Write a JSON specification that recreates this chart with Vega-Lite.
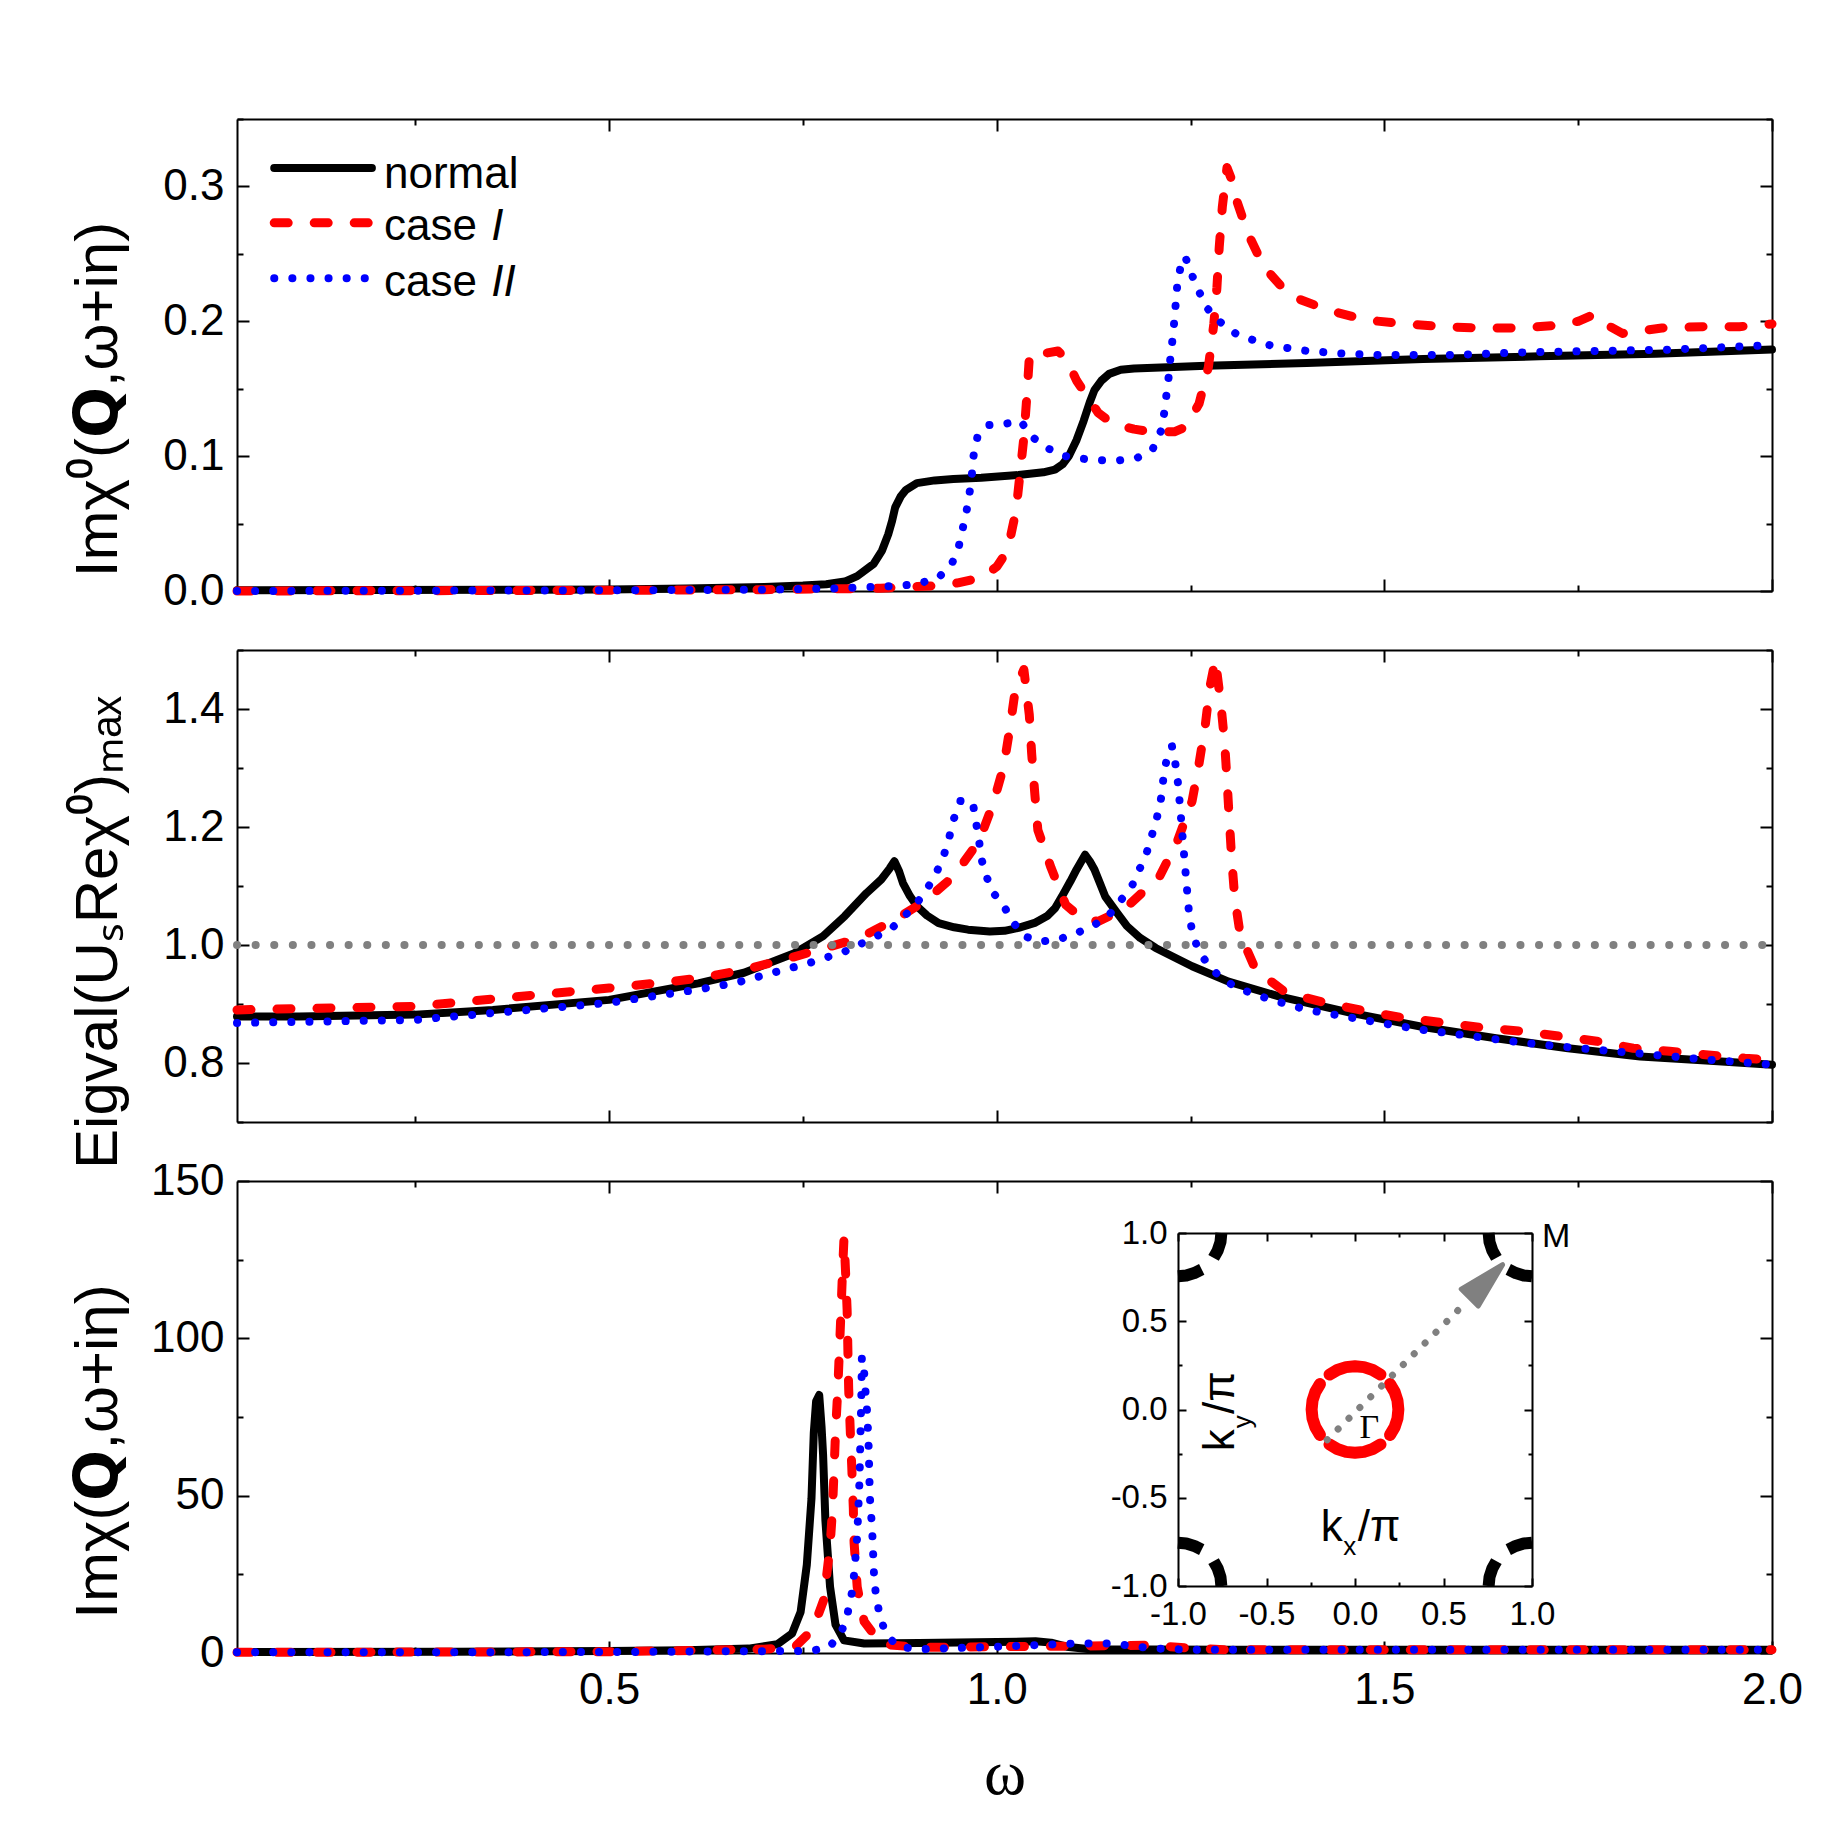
{
"$schema": "https://vega.github.io/schema/vega-lite/v6.json",
"background": "white",
"padding": {"left": 67, "top": 97, "right": 20, "bottom": 20},
"spacing": 59,
"bounds": "flush",
"config": {
  "view": {"stroke": null},
  "font": "Liberation Sans",
  "axis": {"grid": false, "domainColor": "black", "domainWidth": 2, "tickColor": "black", "tickWidth": 2,
    "labelFont": "Liberation Sans", "labelFontSize": 44, "labelColor": "black", "labelFlush": false, "labelOverlap": false, "labelBound": false,
    "titleFont": "Liberation Sans", "titleFontSize": 60, "titleFontWeight": "normal", "titleColor": "black", "zindex": 1},
  "line": {"strokeCap": "round", "strokeJoin": "round"},
  "text": {"font": "Liberation Sans", "color": "black", "align": "left", "baseline": "alphabetic"}
},
"datasets": {
  "t_n": [{"w":0.02,"v":0.0005},{"w":0.2,"v":0.0007},{"w":0.4,"v":0.001},{"w":0.5,"v":0.0012},{"w":0.6,"v":0.0018},{"w":0.7,"v":0.003},{"w":0.75,"v":0.004},{"w":0.78,"v":0.005},{"w":0.804,"v":0.007},{"w":0.82,"v":0.011},{"w":0.841,"v":0.02},{"w":0.852,"v":0.03},{"w":0.86,"v":0.042},{"w":0.865,"v":0.052},{"w":0.869,"v":0.062},{"w":0.876,"v":0.07},{"w":0.883,"v":0.075},{"w":0.897,"v":0.08},{"w":0.92,"v":0.082},{"w":0.944,"v":0.083},{"w":0.98,"v":0.084},{"w":1.028,"v":0.086},{"w":1.06,"v":0.088},{"w":1.075,"v":0.09},{"w":1.085,"v":0.094},{"w":1.093,"v":0.1},{"w":1.103,"v":0.112},{"w":1.112,"v":0.126},{"w":1.12,"v":0.14},{"w":1.126,"v":0.149},{"w":1.135,"v":0.156},{"w":1.145,"v":0.161},{"w":1.16,"v":0.164},{"w":1.177,"v":0.165},{"w":1.22,"v":0.166},{"w":1.27,"v":0.167},{"w":1.4,"v":0.169},{"w":1.55,"v":0.172},{"w":1.7,"v":0.174},{"w":1.85,"v":0.176},{"w":2.0,"v":0.179}],
  "t_1": [{"w":0.02,"v":0.0},{"w":0.5,"v":0.0005},{"w":0.7,"v":0.001},{"w":0.85,"v":0.002},{"w":0.925,"v":0.004},{"w":0.95,"v":0.006},{"w":0.981,"v":0.01},{"w":1.0,"v":0.018},{"w":1.014,"v":0.03},{"w":1.025,"v":0.06},{"w":1.03,"v":0.087},{"w":1.035,"v":0.114},{"w":1.039,"v":0.146},{"w":1.042,"v":0.173},{"w":1.048,"v":0.178},{"w":1.06,"v":0.176},{"w":1.079,"v":0.178},{"w":1.09,"v":0.172},{"w":1.103,"v":0.156},{"w":1.131,"v":0.132},{"w":1.15,"v":0.124},{"w":1.177,"v":0.12},{"w":1.2,"v":0.118},{"w":1.229,"v":0.118},{"w":1.245,"v":0.122},{"w":1.261,"v":0.139},{"w":1.273,"v":0.166},{"w":1.28,"v":0.198},{"w":1.284,"v":0.225},{"w":1.287,"v":0.255},{"w":1.291,"v":0.285},{"w":1.297,"v":0.314},{"w":1.303,"v":0.305},{"w":1.308,"v":0.292},{"w":1.324,"v":0.265},{"w":1.345,"v":0.24},{"w":1.378,"v":0.219},{"w":1.429,"v":0.208},{"w":1.476,"v":0.201},{"w":1.527,"v":0.198},{"w":1.578,"v":0.196},{"w":1.625,"v":0.195},{"w":1.676,"v":0.195},{"w":1.723,"v":0.197},{"w":1.75,"v":0.2},{"w":1.77,"v":0.205},{"w":1.785,"v":0.198},{"w":1.807,"v":0.191},{"w":1.858,"v":0.195},{"w":1.91,"v":0.196},{"w":1.958,"v":0.196},{"w":2.0,"v":0.198}],
  "t_2": [{"w":0.02,"v":0.0},{"w":0.5,"v":0.0005},{"w":0.7,"v":0.001},{"w":0.8,"v":0.002},{"w":0.879,"v":0.004},{"w":0.902,"v":0.006},{"w":0.925,"v":0.01},{"w":0.942,"v":0.02},{"w":0.951,"v":0.033},{"w":0.956,"v":0.046},{"w":0.961,"v":0.059},{"w":0.965,"v":0.073},{"w":0.968,"v":0.087},{"w":0.97,"v":0.1},{"w":0.975,"v":0.114},{"w":0.989,"v":0.123},{"w":1.011,"v":0.124},{"w":1.031,"v":0.126},{"w":1.044,"v":0.115},{"w":1.065,"v":0.106},{"w":1.089,"v":0.1},{"w":1.112,"v":0.098},{"w":1.135,"v":0.097},{"w":1.159,"v":0.097},{"w":1.182,"v":0.099},{"w":1.201,"v":0.105},{"w":1.212,"v":0.119},{"w":1.216,"v":0.132},{"w":1.219,"v":0.146},{"w":1.222,"v":0.16},{"w":1.224,"v":0.173},{"w":1.227,"v":0.188},{"w":1.229,"v":0.2},{"w":1.231,"v":0.214},{"w":1.233,"v":0.228},{"w":1.238,"v":0.243},{"w":1.243,"v":0.248},{"w":1.252,"v":0.234},{"w":1.261,"v":0.222},{"w":1.271,"v":0.21},{"w":1.287,"v":0.2},{"w":1.308,"v":0.191},{"w":1.331,"v":0.186},{"w":1.354,"v":0.182},{"w":1.401,"v":0.178},{"w":1.448,"v":0.176},{"w":1.494,"v":0.175},{"w":1.588,"v":0.175},{"w":1.681,"v":0.177},{"w":1.774,"v":0.178},{"w":1.868,"v":0.179},{"w":1.989,"v":0.182},{"w":2.0,"v":0.182}],
  "leg_n": [{"w":0.068,"v":0.3137},{"w":0.194,"v":0.3137}],
  "leg_1": [{"w":0.068,"v":0.273},{"w":0.194,"v":0.273}],
  "leg_2": [{"w":0.068,"v":0.232},{"w":0.194,"v":0.232}],
  "leg_txt": [{"w":0.2096,"v":0.299,"t":"normal"},{"w":0.2096,"v":0.26,"t":"case"},{"w":0.2096,"v":0.219,"t":"case"}],
  "leg_it": [{"w":0.348,"v":0.26,"t":"I"},{"w":0.348,"v":0.219,"t":"II"}],
  "m_n": [{"w":0.02,"v":0.879},{"w":0.1,"v":0.879},{"w":0.25,"v":0.882},{"w":0.35,"v":0.89},{"w":0.5,"v":0.907},{"w":0.615,"v":0.935},{"w":0.674,"v":0.953},{"w":0.739,"v":0.986},{"w":0.776,"v":1.015},{"w":0.804,"v":1.049},{"w":0.832,"v":1.088},{"w":0.851,"v":1.111},{"w":0.862,"v":1.13},{"w":0.868,"v":1.142},{"w":0.874,"v":1.125},{"w":0.879,"v":1.105},{"w":0.888,"v":1.083},{"w":0.897,"v":1.066},{"w":0.91,"v":1.05},{"w":0.925,"v":1.037},{"w":0.945,"v":1.03},{"w":0.963,"v":1.026},{"w":0.991,"v":1.023},{"w":1.01,"v":1.024},{"w":1.028,"v":1.029},{"w":1.05,"v":1.038},{"w":1.065,"v":1.049},{"w":1.075,"v":1.062},{"w":1.084,"v":1.082},{"w":1.095,"v":1.108},{"w":1.103,"v":1.128},{"w":1.114,"v":1.153},{"w":1.12,"v":1.142},{"w":1.126,"v":1.128},{"w":1.133,"v":1.105},{"w":1.14,"v":1.082},{"w":1.155,"v":1.055},{"w":1.168,"v":1.032},{"w":1.185,"v":1.012},{"w":1.205,"v":0.995},{"w":1.252,"v":0.964},{"w":1.299,"v":0.938},{"w":1.364,"v":0.913},{"w":1.457,"v":0.885},{"w":1.55,"v":0.861},{"w":1.644,"v":0.842},{"w":1.737,"v":0.825},{"w":1.83,"v":0.811},{"w":1.92,"v":0.804},{"w":2.0,"v":0.797}],
  "m_1": [{"w":0.02,"v":0.89},{"w":0.25,"v":0.896},{"w":0.5,"v":0.927},{"w":0.58,"v":0.938},{"w":0.617,"v":0.944},{"w":0.674,"v":0.958},{"w":0.725,"v":0.975},{"w":0.771,"v":0.992},{"w":0.823,"v":1.012},{"w":0.869,"v":1.043},{"w":0.907,"v":1.074},{"w":0.944,"v":1.116},{"w":0.977,"v":1.176},{"w":0.995,"v":1.238},{"w":1.009,"v":1.303},{"w":1.017,"v":1.368},{"w":1.024,"v":1.433},{"w":1.035,"v":1.467},{"w":1.042,"v":1.39},{"w":1.045,"v":1.325},{"w":1.049,"v":1.258},{"w":1.053,"v":1.195},{"w":1.07,"v":1.131},{"w":1.089,"v":1.068},{"w":1.11,"v":1.045},{"w":1.131,"v":1.04},{"w":1.15,"v":1.052},{"w":1.173,"v":1.071},{"w":1.21,"v":1.116},{"w":1.233,"v":1.176},{"w":1.252,"v":1.244},{"w":1.261,"v":1.308},{"w":1.269,"v":1.373},{"w":1.275,"v":1.438},{"w":1.282,"v":1.484},{"w":1.289,"v":1.41},{"w":1.294,"v":1.342},{"w":1.297,"v":1.28},{"w":1.3,"v":1.212},{"w":1.303,"v":1.147},{"w":1.307,"v":1.08},{"w":1.314,"v":1.018},{"w":1.334,"v":0.958},{"w":1.373,"v":0.919},{"w":1.424,"v":0.902},{"w":1.476,"v":0.888},{"w":1.527,"v":0.876},{"w":1.578,"v":0.868},{"w":1.625,"v":0.86},{"w":1.676,"v":0.854},{"w":1.728,"v":0.845},{"w":1.774,"v":0.837},{"w":1.821,"v":0.825},{"w":1.868,"v":0.82},{"w":1.914,"v":0.814},{"w":1.965,"v":0.808},{"w":2.0,"v":0.805}],
  "m_2": [{"w":0.02,"v":0.868},{"w":0.25,"v":0.873},{"w":0.5,"v":0.902},{"w":0.617,"v":0.925},{"w":0.664,"v":0.936},{"w":0.711,"v":0.953},{"w":0.757,"v":0.969},{"w":0.804,"v":0.989},{"w":0.841,"v":1.012},{"w":0.865,"v":1.029},{"w":0.881,"v":1.049},{"w":0.897,"v":1.071},{"w":0.911,"v":1.097},{"w":0.923,"v":1.125},{"w":0.932,"v":1.153},{"w":0.939,"v":1.184},{"w":0.945,"v":1.215},{"w":0.953,"v":1.244},{"w":0.969,"v":1.242},{"w":0.973,"v":1.21},{"w":0.977,"v":1.179},{"w":0.98,"v":1.147},{"w":0.986,"v":1.119},{"w":0.994,"v":1.091},{"w":1.009,"v":1.066},{"w":1.022,"v":1.037},{"w":1.035,"v":1.015},{"w":1.058,"v":1.006},{"w":1.081,"v":1.01},{"w":1.103,"v":1.02},{"w":1.126,"v":1.034},{"w":1.145,"v":1.051},{"w":1.159,"v":1.074},{"w":1.174,"v":1.099},{"w":1.185,"v":1.131},{"w":1.194,"v":1.159},{"w":1.201,"v":1.19},{"w":1.207,"v":1.218},{"w":1.212,"v":1.249},{"w":1.215,"v":1.283},{"w":1.219,"v":1.314},{"w":1.226,"v":1.337},{"w":1.231,"v":1.303},{"w":1.234,"v":1.272},{"w":1.236,"v":1.241},{"w":1.238,"v":1.21},{"w":1.24,"v":1.179},{"w":1.242,"v":1.147},{"w":1.244,"v":1.116},{"w":1.246,"v":1.085},{"w":1.248,"v":1.054},{"w":1.252,"v":1.023},{"w":1.259,"v":0.995},{"w":1.271,"v":0.969},{"w":1.287,"v":0.947},{"w":1.31,"v":0.927},{"w":1.354,"v":0.907},{"w":1.401,"v":0.89},{"w":1.448,"v":0.879},{"w":1.494,"v":0.868},{"w":1.55,"v":0.856},{"w":1.616,"v":0.845},{"w":1.681,"v":0.834},{"w":1.751,"v":0.825},{"w":1.821,"v":0.817},{"w":1.896,"v":0.808},{"w":2.0,"v":0.797}],
  "unity": [{"w":0.02,"v":1.0},{"w":2.0,"v":1.0}],
  "b_n": [{"w":0.02,"v":0.3},{"w":0.3,"v":0.4},{"w":0.5,"v":0.6},{"w":0.6,"v":0.9},{"w":0.68,"v":1.4},{"w":0.717,"v":2.8},{"w":0.736,"v":6.2},{"w":0.747,"v":13},{"w":0.755,"v":28},{"w":0.761,"v":49},{"w":0.764,"v":70},{"w":0.767,"v":80},{"w":0.771,"v":82},{"w":0.774,"v":72},{"w":0.776,"v":63},{"w":0.779,"v":42},{"w":0.785,"v":21},{"w":0.792,"v":9},{"w":0.803,"v":4},{"w":0.829,"v":3},{"w":0.9,"v":3.2},{"w":1.0,"v":3.5},{"w":1.05,"v":3.7},{"w":1.07,"v":3.3},{"w":1.09,"v":2},{"w":1.12,"v":1.2},{"w":1.3,"v":1},{"w":1.6,"v":1},{"w":2.0,"v":1}],
  "b_1": [{"w":0.02,"v":0.2},{"w":0.5,"v":0.4},{"w":0.7,"v":1.2},{"w":0.74,"v":2},{"w":0.763,"v":7.6},{"w":0.777,"v":17},{"w":0.785,"v":34},{"w":0.788,"v":45},{"w":0.79,"v":57},{"w":0.792,"v":70},{"w":0.795,"v":84},{"w":0.797,"v":96},{"w":0.799,"v":108},{"w":0.801,"v":121},{"w":0.803,"v":132},{"w":0.805,"v":121},{"w":0.807,"v":109},{"w":0.808,"v":96},{"w":0.809,"v":84},{"w":0.811,"v":71},{"w":0.813,"v":59},{"w":0.815,"v":46},{"w":0.816,"v":35},{"w":0.82,"v":21},{"w":0.829,"v":10},{"w":0.851,"v":2.8},{"w":0.9,"v":1.8},{"w":1.0,"v":2},{"w":1.1,"v":2.2},{"w":1.2,"v":2.5},{"w":1.25,"v":1.5},{"w":1.3,"v":1},{"w":1.6,"v":1},{"w":2.0,"v":1}],
  "b_2": [{"w":0.02,"v":0.2},{"w":0.5,"v":0.3},{"w":0.7,"v":0.6},{"w":0.762,"v":0.7},{"w":0.785,"v":2},{"w":0.801,"v":7.6},{"w":0.808,"v":13},{"w":0.813,"v":19},{"w":0.816,"v":25},{"w":0.818,"v":31},{"w":0.82,"v":37},{"w":0.821,"v":43},{"w":0.822,"v":49},{"w":0.823,"v":55},{"w":0.8235,"v":61},{"w":0.824,"v":67},{"w":0.8245,"v":72},{"w":0.825,"v":78},{"w":0.8255,"v":84},{"w":0.826,"v":94},{"w":0.829,"v":89},{"w":0.831,"v":82},{"w":0.833,"v":76},{"w":0.834,"v":70},{"w":0.835,"v":64},{"w":0.8355,"v":58},{"w":0.836,"v":53},{"w":0.837,"v":46},{"w":0.839,"v":41},{"w":0.84,"v":35},{"w":0.841,"v":29},{"w":0.842,"v":23},{"w":0.845,"v":17},{"w":0.85,"v":11},{"w":0.857,"v":6.2},{"w":0.872,"v":2},{"w":0.9,"v":1.2},{"w":1.0,"v":2},{"w":1.1,"v":3},{"w":1.15,"v":3},{"w":1.2,"v":1.5},{"w":1.25,"v":1},{"w":2.0,"v":1}],
  "ring": [
    {"a":"E","kx":0.198,"ky":-0.144},{"a":"E","kx":0.224,"ky":-0.1},{"a":"E","kx":0.24,"ky":-0.051},{"a":"E","kx":0.245,"ky":0},{"a":"E","kx":0.24,"ky":0.051},{"a":"E","kx":0.224,"ky":0.1},{"a":"E","kx":0.198,"ky":0.144},
    {"a":"W","kx":-0.198,"ky":-0.144},{"a":"W","kx":-0.224,"ky":-0.1},{"a":"W","kx":-0.24,"ky":-0.051},{"a":"W","kx":-0.245,"ky":0},{"a":"W","kx":-0.24,"ky":0.051},{"a":"W","kx":-0.224,"ky":0.1},{"a":"W","kx":-0.198,"ky":0.144},
    {"a":"N","kx":-0.144,"ky":0.198},{"a":"N","kx":-0.1,"ky":0.224},{"a":"N","kx":-0.051,"ky":0.24},{"a":"N","kx":0,"ky":0.245},{"a":"N","kx":0.051,"ky":0.24},{"a":"N","kx":0.1,"ky":0.224},{"a":"N","kx":0.144,"ky":0.198},
    {"a":"S","kx":-0.144,"ky":-0.198},{"a":"S","kx":-0.1,"ky":-0.224},{"a":"S","kx":-0.051,"ky":-0.24},{"a":"S","kx":0,"ky":-0.245},{"a":"S","kx":0.051,"ky":-0.24},{"a":"S","kx":0.1,"ky":-0.224},{"a":"S","kx":0.144,"ky":-0.198}],
  "corner": [
    {"a":"TLa","kx":-0.755,"ky":1.0},{"a":"TLa","kx":-0.76,"ky":0.949},{"a":"TLa","kx":-0.776,"ky":0.9},{"a":"TLa","kx":-0.799,"ky":0.859},
    {"a":"TLb","kx":-0.866,"ky":0.794},{"a":"TLb","kx":-0.908,"ky":0.773},{"a":"TLb","kx":-0.953,"ky":0.759},{"a":"TLb","kx":-1.0,"ky":0.755},
    {"a":"TRa","kx":0.755,"ky":1.0},{"a":"TRa","kx":0.76,"ky":0.949},{"a":"TRa","kx":0.776,"ky":0.9},{"a":"TRa","kx":0.799,"ky":0.859},
    {"a":"TRb","kx":0.866,"ky":0.794},{"a":"TRb","kx":0.908,"ky":0.773},{"a":"TRb","kx":0.953,"ky":0.759},{"a":"TRb","kx":1.0,"ky":0.755},
    {"a":"BLa","kx":-0.755,"ky":-1.0},{"a":"BLa","kx":-0.76,"ky":-0.949},{"a":"BLa","kx":-0.776,"ky":-0.9},{"a":"BLa","kx":-0.799,"ky":-0.859},
    {"a":"BLb","kx":-0.866,"ky":-0.794},{"a":"BLb","kx":-0.908,"ky":-0.773},{"a":"BLb","kx":-0.953,"ky":-0.759},{"a":"BLb","kx":-1.0,"ky":-0.755},
    {"a":"BRa","kx":0.755,"ky":-1.0},{"a":"BRa","kx":0.76,"ky":-0.949},{"a":"BRa","kx":0.776,"ky":-0.9},{"a":"BRa","kx":0.799,"ky":-0.859},
    {"a":"BRb","kx":0.866,"ky":-0.794},{"a":"BRb","kx":0.908,"ky":-0.773},{"a":"BRb","kx":0.953,"ky":-0.759},{"a":"BRb","kx":1.0,"ky":-0.755}],
  "arrow": [{"kx":-0.157,"ky":-0.172},{"kx":0.6,"ky":0.58}],
  "head": [{"kx":0.662,"ky":0.648}],
  "lab_h": [{"kx":-0.194,"ky":-0.745,"t":"k"},{"kx":0.015,"ky":-0.745,"t":"/π"}],
  "sub_h": [{"kx":-0.066,"ky":-0.826,"t":"x"}],
  "lab_v": [{"kx":-0.685,"ky":-0.236,"t":"k"},{"kx":-0.685,"ky":-0.025,"t":"/π"}],
  "sub_v": [{"kx":-0.59,"ky":-0.106,"t":"y"}],
  "gamma": [{"kx":0.025,"ky":-0.163,"t":"Γ"}],
  "mpt": [{"kx":1.056,"ky":0.92,"t":"M"}]
},
"vconcat": [
  {
    "width": 1535, "height": 472,
    "resolve": {"axis": {"x": "independent", "y": "independent"}},
    "layer": [
      {"data": {"name": "t_n"}, "mark": {"type": "line", "color": "black", "strokeWidth": 8},
       "encoding": {
         "x": {"field": "w", "type": "quantitative", "scale": {"domain": [0.02, 2], "nice": false, "zero": false},
               "axis": {"orient": "bottom", "values": [0.25,0.5,0.75,1,1.25,1.5,1.75,2], "tickSize": {"condition": {"test": "abs(datum.value*2-round(datum.value*2))<0.001", "value": -12}, "value": -6}, "labels": false, "title": null}},
         "y": {"field": "v", "type": "quantitative", "scale": {"domain": [0, 0.35], "nice": false, "zero": false},
               "axis": {"orient": "left", "values": [0,0.05,0.1,0.15,0.2,0.25,0.3,0.35], "tickSize": {"condition": {"test": "abs(datum.value*10-round(datum.value*10))<0.001", "value": -12}, "value": -6}, "labelPadding": 25,
                        "labelExpr": "abs(datum.value*10-round(datum.value*10))<0.001 ? format(datum.value,'.1f') : ''",
                        "title": "Imχ⁰(𝗤,ω+iη)", "titleAngle": 270, "titleAlign": "center", "titleBaseline": "alphabetic", "titleX": -121, "titleY": 280}},
         "order": {"value": null}}},
      {"data": {"name": "t_1"}, "mark": {"type": "line", "color": "#ff0000", "strokeWidth": 9, "strokeDash": [14, 26]},
       "encoding": {"x": {"field": "w", "type": "quantitative", "scale": {"domain": [0.02, 2], "nice": false, "zero": false}, "axis": null},
                    "y": {"field": "v", "type": "quantitative", "scale": {"domain": [0, 0.35], "nice": false, "zero": false}, "axis": null},
                    "order": {"value": null}}},
      {"data": {"name": "t_2"}, "mark": {"type": "line", "color": "#0000ff", "strokeWidth": 8, "strokeDash": [0.1, 18]},
       "encoding": {"x": {"field": "w", "type": "quantitative", "scale": {"domain": [0.02, 2], "nice": false, "zero": false}, "axis": null},
                    "y": {"field": "v", "type": "quantitative", "scale": {"domain": [0, 0.35], "nice": false, "zero": false}, "axis": null},
                    "order": {"value": null}}},
      {"data": {"name": "t_n"}, "mark": {"type": "line", "opacity": 0},
       "encoding": {
         "x": {"field": "w", "type": "quantitative", "scale": {"domain": [0.02, 2], "nice": false, "zero": false},
               "axis": {"orient": "top", "values": [0.25,0.5,0.75,1,1.25,1.5,1.75,2], "tickSize": {"condition": {"test": "abs(datum.value*2-round(datum.value*2))<0.001", "value": -12}, "value": -6}, "labels": false, "title": null}},
         "y": {"field": "v", "type": "quantitative", "scale": {"domain": [0, 0.35], "nice": false, "zero": false},
               "axis": {"orient": "right", "values": [0,0.05,0.1,0.15,0.2,0.25,0.3,0.35], "tickSize": {"condition": {"test": "abs(datum.value*10-round(datum.value*10))<0.001", "value": -12}, "value": -6}, "labels": false, "title": null}},
         "order": {"value": null}}},
      {"data": {"name": "leg_n"}, "mark": {"type": "line", "color": "black", "strokeWidth": 8},
       "encoding": {"x": {"field": "w", "type": "quantitative", "scale": {"domain": [0.02, 2], "nice": false, "zero": false}, "axis": null},
                    "y": {"field": "v", "type": "quantitative", "scale": {"domain": [0, 0.35], "nice": false, "zero": false}, "axis": null}}},
      {"data": {"name": "leg_1"}, "mark": {"type": "line", "color": "#ff0000", "strokeWidth": 9, "strokeDash": [14, 26]},
       "encoding": {"x": {"field": "w", "type": "quantitative", "scale": {"domain": [0.02, 2], "nice": false, "zero": false}, "axis": null},
                    "y": {"field": "v", "type": "quantitative", "scale": {"domain": [0, 0.35], "nice": false, "zero": false}, "axis": null}}},
      {"data": {"name": "leg_2"}, "mark": {"type": "line", "color": "#0000ff", "strokeWidth": 8, "strokeDash": [0.1, 18]},
       "encoding": {"x": {"field": "w", "type": "quantitative", "scale": {"domain": [0.02, 2], "nice": false, "zero": false}, "axis": null},
                    "y": {"field": "v", "type": "quantitative", "scale": {"domain": [0, 0.35], "nice": false, "zero": false}, "axis": null}}},
      {"data": {"name": "leg_txt"}, "mark": {"type": "text", "fontSize": 44},
       "encoding": {"x": {"field": "w", "type": "quantitative", "scale": {"domain": [0.02, 2], "nice": false, "zero": false}, "axis": null},
                    "y": {"field": "v", "type": "quantitative", "scale": {"domain": [0, 0.35], "nice": false, "zero": false}, "axis": null},
                    "text": {"field": "t"}}},
      {"data": {"name": "leg_it"}, "mark": {"type": "text", "fontSize": 44, "fontStyle": "italic"},
       "encoding": {"x": {"field": "w", "type": "quantitative", "scale": {"domain": [0.02, 2], "nice": false, "zero": false}, "axis": null},
                    "y": {"field": "v", "type": "quantitative", "scale": {"domain": [0, 0.35], "nice": false, "zero": false}, "axis": null},
                    "text": {"field": "t"}}}
    ]
  },
  {
    "width": 1535, "height": 472,
    "resolve": {"axis": {"x": "independent", "y": "independent"}},
    "layer": [
      {"data": {"name": "m_n"}, "mark": {"type": "line", "color": "black", "strokeWidth": 8},
       "encoding": {
         "x": {"field": "w", "type": "quantitative", "scale": {"domain": [0.02, 2], "nice": false, "zero": false},
               "axis": {"orient": "bottom", "values": [0.25,0.5,0.75,1,1.25,1.5,1.75,2], "tickSize": {"condition": {"test": "abs(datum.value*2-round(datum.value*2))<0.001", "value": -12}, "value": -6}, "labels": false, "title": null}},
         "y": {"field": "v", "type": "quantitative", "scale": {"domain": [0.7, 1.5], "nice": false, "zero": false},
               "axis": {"orient": "left", "values": [0.7,0.8,0.9,1.0,1.1,1.2,1.3,1.4,1.5], "tickSize": {"condition": {"test": "abs(datum.value*5-round(datum.value*5))<0.001", "value": -12}, "value": -6}, "labelPadding": 25,
                        "labelExpr": "abs(datum.value*5-round(datum.value*5))<0.001 ? format(datum.value,'.1f') : ''",
                        "title": "Eigval(UₛReχ⁰)ₘₐₓ", "titleAngle": 270, "titleAlign": "center", "titleBaseline": "alphabetic", "titleX": -121, "titleY": 282}},
         "order": {"value": null}}},
      {"data": {"name": "m_1"}, "mark": {"type": "line", "color": "#ff0000", "strokeWidth": 9, "strokeDash": [14, 26]},
       "encoding": {"x": {"field": "w", "type": "quantitative", "scale": {"domain": [0.02, 2], "nice": false, "zero": false}, "axis": null},
                    "y": {"field": "v", "type": "quantitative", "scale": {"domain": [0.7, 1.5], "nice": false, "zero": false}, "axis": null},
                    "order": {"value": null}}},
      {"data": {"name": "m_2"}, "mark": {"type": "line", "color": "#0000ff", "strokeWidth": 8, "strokeDash": [0.1, 18]},
       "encoding": {"x": {"field": "w", "type": "quantitative", "scale": {"domain": [0.02, 2], "nice": false, "zero": false}, "axis": null},
                    "y": {"field": "v", "type": "quantitative", "scale": {"domain": [0.7, 1.5], "nice": false, "zero": false}, "axis": null},
                    "order": {"value": null}}},
      {"data": {"name": "unity"}, "mark": {"type": "line", "color": "#808080", "strokeWidth": 8, "strokeDash": [0.1, 18.5]},
       "encoding": {"x": {"field": "w", "type": "quantitative", "scale": {"domain": [0.02, 2], "nice": false, "zero": false}, "axis": null},
                    "y": {"field": "v", "type": "quantitative", "scale": {"domain": [0.7, 1.5], "nice": false, "zero": false}, "axis": null}}},
      {"data": {"name": "m_n"}, "mark": {"type": "line", "opacity": 0},
       "encoding": {
         "x": {"field": "w", "type": "quantitative", "scale": {"domain": [0.02, 2], "nice": false, "zero": false},
               "axis": {"orient": "top", "values": [0.25,0.5,0.75,1,1.25,1.5,1.75,2], "tickSize": {"condition": {"test": "abs(datum.value*2-round(datum.value*2))<0.001", "value": -12}, "value": -6}, "labels": false, "title": null}},
         "y": {"field": "v", "type": "quantitative", "scale": {"domain": [0.7, 1.5], "nice": false, "zero": false},
               "axis": {"orient": "right", "values": [0.7,0.8,0.9,1.0,1.1,1.2,1.3,1.4,1.5], "tickSize": {"condition": {"test": "abs(datum.value*5-round(datum.value*5))<0.001", "value": -12}, "value": -6}, "labels": false, "title": null}},
         "order": {"value": null}}}
    ]
  },
  {
    "width": 1535, "height": 472,
    "resolve": {"scale": {"x": "independent", "y": "independent"}, "axis": {"x": "independent", "y": "independent"}},
    "layer": [
      {"data": {"name": "b_n"}, "mark": {"type": "line", "color": "black", "strokeWidth": 8},
       "encoding": {
         "x": {"field": "w", "type": "quantitative", "scale": {"domain": [0.02, 2], "nice": false, "zero": false},
               "axis": {"orient": "bottom", "values": [0.25,0.5,0.75,1,1.25,1.5,1.75,2], "tickSize": {"condition": {"test": "abs(datum.value*2-round(datum.value*2))<0.001", "value": -12}, "value": -6}, "labelPadding": 27,
                        "labelExpr": "abs(datum.value*2-round(datum.value*2))<0.001 ? format(datum.value,'.1f') : ''",
                        "title": "ω", "titleFont": "Liberation Serif", "titleFontSize": 64, "titleBaseline": "alphabetic", "titleAlign": "center", "titleX": 767.5, "titleY": 140}},
         "y": {"field": "v", "type": "quantitative", "scale": {"domain": [0, 150], "nice": false, "zero": false},
               "axis": {"orient": "left", "values": [0,25,50,75,100,125,150], "tickSize": {"condition": {"test": "datum.value % 50 === 0", "value": -12}, "value": -6}, "labelPadding": 25,
                        "labelExpr": "datum.value % 50 === 0 ? format(datum.value,'d') : ''",
                        "title": "Imχ(𝗤,ω+iη)", "titleAngle": 270, "titleAlign": "center", "titleBaseline": "alphabetic", "titleX": -121, "titleY": 270}},
         "order": {"value": null}}},
      {"data": {"name": "b_1"}, "mark": {"type": "line", "color": "#ff0000", "strokeWidth": 9, "strokeDash": [14, 26]},
       "encoding": {"x": {"field": "w", "type": "quantitative", "scale": {"domain": [0.02, 2], "nice": false, "zero": false}, "axis": null},
                    "y": {"field": "v", "type": "quantitative", "scale": {"domain": [0, 150], "nice": false, "zero": false}, "axis": null},
                    "order": {"value": null}}},
      {"data": {"name": "b_2"}, "mark": {"type": "line", "color": "#0000ff", "strokeWidth": 8, "strokeDash": [0.1, 18]},
       "encoding": {"x": {"field": "w", "type": "quantitative", "scale": {"domain": [0.02, 2], "nice": false, "zero": false}, "axis": null},
                    "y": {"field": "v", "type": "quantitative", "scale": {"domain": [0, 150], "nice": false, "zero": false}, "axis": null},
                    "order": {"value": null}}},
      {"data": {"name": "b_n"}, "mark": {"type": "line", "opacity": 0},
       "encoding": {
         "x": {"field": "w", "type": "quantitative", "scale": {"domain": [0.02, 2], "nice": false, "zero": false},
               "axis": {"orient": "top", "values": [0.25,0.5,0.75,1,1.25,1.5,1.75,2], "tickSize": {"condition": {"test": "abs(datum.value*2-round(datum.value*2))<0.001", "value": -12}, "value": -6}, "labels": false, "title": null}},
         "y": {"field": "v", "type": "quantitative", "scale": {"domain": [0, 150], "nice": false, "zero": false},
               "axis": {"orient": "right", "values": [0,25,50,75,100,125,150], "tickSize": {"condition": {"test": "datum.value % 50 === 0", "value": -12}, "value": -6}, "labels": false, "title": null}},
         "order": {"value": null}}},
      {"data": {"name": "corner"}, "mark": {"type": "line", "color": "black", "strokeWidth": 12, "strokeCap": "butt"},
       "encoding": {
         "x": {"field": "kx", "type": "quantitative", "scale": {"domain": [-1, 1], "range": [941, 1295], "nice": false, "zero": false},
               "axis": {"orient": "bottom", "offset": -67, "values": [-1,-0.75,-0.5,-0.25,0,0.25,0.5,0.75,1], "tickSize": {"condition": {"test": "abs(datum.value*2-round(datum.value*2))<0.001", "value": -8}, "value": -4}, "labelFontSize": 33, "labelPadding": 20,
                        "labelExpr": "abs(datum.value*2-round(datum.value*2))<0.001 ? ((datum.value<0 ? '-' : '') + format(abs(datum.value),'.1f')) : ''", "title": null}},
         "y": {"field": "ky", "type": "quantitative", "scale": {"domain": [-1, 1], "range": [405, 52], "nice": false, "zero": false},
               "axis": {"orient": "left", "offset": -941, "values": [-1,-0.75,-0.5,-0.25,0,0.25,0.5,0.75,1], "tickSize": {"condition": {"test": "abs(datum.value*2-round(datum.value*2))<0.001", "value": -8}, "value": -4}, "labelFontSize": 33, "labelPadding": 19,
                        "labelExpr": "abs(datum.value*2-round(datum.value*2))<0.001 ? ((datum.value<0 ? '-' : '') + format(abs(datum.value),'.1f')) : ''", "title": null}},
         "detail": {"field": "a"},
         "order": {"value": null}}},
      {"data": {"name": "ring"}, "mark": {"type": "line", "color": "#ff0000", "strokeWidth": 12},
       "encoding": {
         "x": {"field": "kx", "type": "quantitative", "scale": {"domain": [-1, 1], "range": [941, 1295], "nice": false, "zero": false},
               "axis": {"orient": "top", "offset": -52, "values": [-1,-0.75,-0.5,-0.25,0,0.25,0.5,0.75,1], "tickSize": {"condition": {"test": "abs(datum.value*2-round(datum.value*2))<0.001", "value": -8}, "value": -4}, "labels": false, "title": null}},
         "y": {"field": "ky", "type": "quantitative", "scale": {"domain": [-1, 1], "range": [405, 52], "nice": false, "zero": false},
               "axis": {"orient": "right", "offset": -240, "values": [-1,-0.75,-0.5,-0.25,0,0.25,0.5,0.75,1], "tickSize": {"condition": {"test": "abs(datum.value*2-round(datum.value*2))<0.001", "value": -8}, "value": -4}, "labels": false, "title": null}},
         "detail": {"field": "a"},
         "order": {"value": null}}},
      {"data": {"name": "arrow"}, "mark": {"type": "line", "color": "#808080", "strokeWidth": 7, "strokeDash": [0.1, 15.2]},
       "encoding": {
         "x": {"field": "kx", "type": "quantitative", "scale": {"domain": [-1, 1], "range": [941, 1295], "nice": false, "zero": false}, "axis": null},
         "y": {"field": "ky", "type": "quantitative", "scale": {"domain": [-1, 1], "range": [405, 52], "nice": false, "zero": false}, "axis": null},
         "order": {"value": null}}},
      {"data": {"name": "head"}, "mark": {"type": "point", "shape": "M0,-1L0.28,0.08L-0.28,0.08Z", "filled": true, "fill": "#808080", "stroke": "#808080", "strokeWidth": 5, "strokeJoin": "round", "opacity": 1, "size": 7400, "angle": 45},
       "encoding": {
         "x": {"field": "kx", "type": "quantitative", "scale": {"domain": [-1, 1], "range": [941, 1295], "nice": false, "zero": false}, "axis": null},
         "y": {"field": "ky", "type": "quantitative", "scale": {"domain": [-1, 1], "range": [405, 52], "nice": false, "zero": false}, "axis": null}}},
      {"data": {"name": "lab_h"}, "mark": {"type": "text", "fontSize": 44},
       "encoding": {
         "x": {"field": "kx", "type": "quantitative", "scale": {"domain": [-1, 1], "range": [941, 1295], "nice": false, "zero": false}, "axis": null},
         "y": {"field": "ky", "type": "quantitative", "scale": {"domain": [-1, 1], "range": [405, 52], "nice": false, "zero": false}, "axis": null},
         "text": {"field": "t"}}},
      {"data": {"name": "sub_h"}, "mark": {"type": "text", "fontSize": 26},
       "encoding": {
         "x": {"field": "kx", "type": "quantitative", "scale": {"domain": [-1, 1], "range": [941, 1295], "nice": false, "zero": false}, "axis": null},
         "y": {"field": "ky", "type": "quantitative", "scale": {"domain": [-1, 1], "range": [405, 52], "nice": false, "zero": false}, "axis": null},
         "text": {"field": "t"}}},
      {"data": {"name": "lab_v"}, "mark": {"type": "text", "fontSize": 44, "angle": 270},
       "encoding": {
         "x": {"field": "kx", "type": "quantitative", "scale": {"domain": [-1, 1], "range": [941, 1295], "nice": false, "zero": false}, "axis": null},
         "y": {"field": "ky", "type": "quantitative", "scale": {"domain": [-1, 1], "range": [405, 52], "nice": false, "zero": false}, "axis": null},
         "text": {"field": "t"}}},
      {"data": {"name": "sub_v"}, "mark": {"type": "text", "fontSize": 26, "angle": 270},
       "encoding": {
         "x": {"field": "kx", "type": "quantitative", "scale": {"domain": [-1, 1], "range": [941, 1295], "nice": false, "zero": false}, "axis": null},
         "y": {"field": "ky", "type": "quantitative", "scale": {"domain": [-1, 1], "range": [405, 52], "nice": false, "zero": false}, "axis": null},
         "text": {"field": "t"}}},
      {"data": {"name": "gamma"}, "mark": {"type": "text", "fontSize": 34, "font": "Liberation Serif"},
       "encoding": {
         "x": {"field": "kx", "type": "quantitative", "scale": {"domain": [-1, 1], "range": [941, 1295], "nice": false, "zero": false}, "axis": null},
         "y": {"field": "ky", "type": "quantitative", "scale": {"domain": [-1, 1], "range": [405, 52], "nice": false, "zero": false}, "axis": null},
         "text": {"field": "t"}}},
      {"data": {"name": "mpt"}, "mark": {"type": "text", "fontSize": 34},
       "encoding": {
         "x": {"field": "kx", "type": "quantitative", "scale": {"domain": [-1, 1], "range": [941, 1295], "nice": false, "zero": false}, "axis": null},
         "y": {"field": "ky", "type": "quantitative", "scale": {"domain": [-1, 1], "range": [405, 52], "nice": false, "zero": false}, "axis": null},
         "text": {"field": "t"}}}
    ]
  }
]
}
